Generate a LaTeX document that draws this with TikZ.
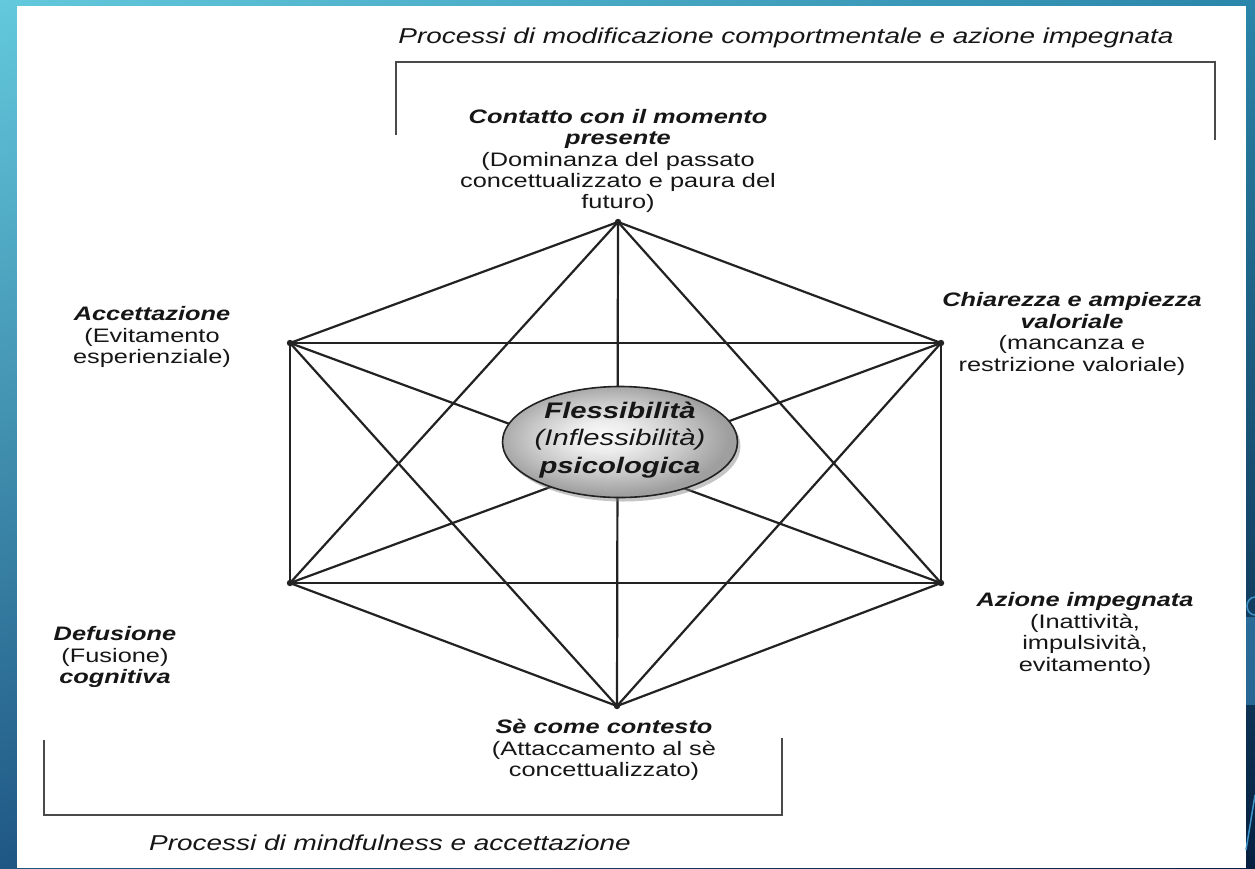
\documentclass[tikz,border=0pt]{standalone}
\usepackage{fontspec}
\setmainfont{Liberation Sans}
\newfontfamily\wf[FakeStretch=1.3]{Liberation Sans}
\usetikzlibrary{shapes.geometric,shadows,shadings}
\definecolor{txt}{HTML}{161616}
\definecolor{lc}{HTML}{222222}
\definecolor{bc}{HTML}{4A4A4A}
\definecolor{bgA}{HTML}{63C9DC}
\definecolor{bgB}{HTML}{2A86AA}
\definecolor{bgC}{HTML}{1F5784}
\definecolor{bgD}{HTML}{061F40}
\definecolor{decoc}{HTML}{3F93C8}
\pgfdeclareradialshading{ellsh}{\pgfpoint{-4bp}{3bp}}{color(0bp)=(gray!4); color(7bp)=(gray!15); color(16bp)=(gray!42); color(25bp)=(gray!75); color(50bp)=(gray!75)}
\tikzset{
  lab/.style={align=center, text=txt, inner sep=0pt, font=\wf\fontsize{19.5}{21.4}\selectfont},
  ttl/.style={text=txt, inner sep=0pt, font=\wf\itshape\fontsize{21.5}{24}\selectfont},
  edge/.style={draw=lc, line width=2.2pt},
  brk/.style={draw=bc, line width=2.6pt},
  dot/.style={fill=lc}
}
\begin{document}
\begin{tikzpicture}[x=1pt,y=-1pt]
\useasboundingbox (0,0) rectangle (1255,868);
% slide background
\shade[upper left=bgA, upper right=bgB, lower left=bgC, lower right=bgD] (0,0) rectangle (1255,868);
\fill[white] (17,6) rectangle (1246,868);
\draw[decoc, line width=1.5pt] (1255,597) to[out=180,in=90] (1247,606) to[out=-90,in=180] (1255,615);
\fill[decoc, opacity=.55] (1246,617) rectangle (1255,705);
\draw[decoc, line width=1.5pt] (1246,850) -- (1255,795);

% vertices
\coordinate (T)  at (618,222);
\coordinate (UL) at (290,343);
\coordinate (UR) at (941,343);
\coordinate (LL) at (290,583);
\coordinate (LR) at (941,583);
\coordinate (B)  at (617,706);

% all connections
\foreach \a/\b in {T/UL,T/UR,UL/LL,UR/LR,LL/B,LR/B,UL/UR,LL/LR,T/LL,T/LR,UL/B,UR/B,T/B,UL/LR,UR/LL}
  \draw[edge] (\a) -- (\b);
\foreach \v in {T,UL,UR,LL,LR,B}
  \fill[dot] (\v) circle (3.2pt);

% central ellipse
\node[ellipse, draw=lc, line width=1.6pt, shading=ellsh, minimum width=235pt, minimum height=111pt,
      drop shadow={shadow xshift=3pt, shadow yshift=-4pt, opacity=0.45}] (E) at (620,442) {};
\node[align=center, text=txt, inner sep=0pt, font=\wf\itshape\fontsize{22.5}{27.5}\selectfont] (Et) at (620,440)
  {{\bfseries Flessibilità}\\(Inflessibilità)\\{\bfseries psicologica}};

% labels
\node[lab] (lt) at (618,161) {{\bfseries\itshape Contatto con il momento}\\{\bfseries\itshape presente}\\(Dominanza del passato\\concettualizzato e paura del\\futuro)};
\node[lab] (lacc) at (152,337) {{\bfseries\itshape Accettazione}\\(Evitamento\\esperienziale)};
\node[lab] (lchi) at (1072,334) {{\bfseries\itshape Chiarezza e ampiezza}\\{\bfseries\itshape valoriale}\\(mancanza e\\restrizione valoriale)};
\node[lab] (lazi) at (1085,634) {{\bfseries\itshape Azione impegnata}\\(Inattività,\\impulsività,\\evitamento)};
\node[lab] (ldef) at (115,657) {{\bfseries\itshape Defusione}\\(Fusione)\\{\bfseries\itshape cognitiva}};
\node[lab] (lse) at (604,750) {{\bfseries\itshape Sè come contesto}\\(Attaccamento al sè\\concettualizzato)};

% brackets and titles
\node[ttl] (tt) at (786,38) {Processi di modificazione comportmentale e azione impegnata};
\draw[brk] (396,135) -- (396,62) -- (1215,62) -- (1215,140);
\draw[brk] (44,740) -- (44,815) -- (782,815) -- (782,738);
\node[ttl] (tb) at (390,843) {Processi di mindfulness e accettazione};
\end{tikzpicture}
\end{document}
